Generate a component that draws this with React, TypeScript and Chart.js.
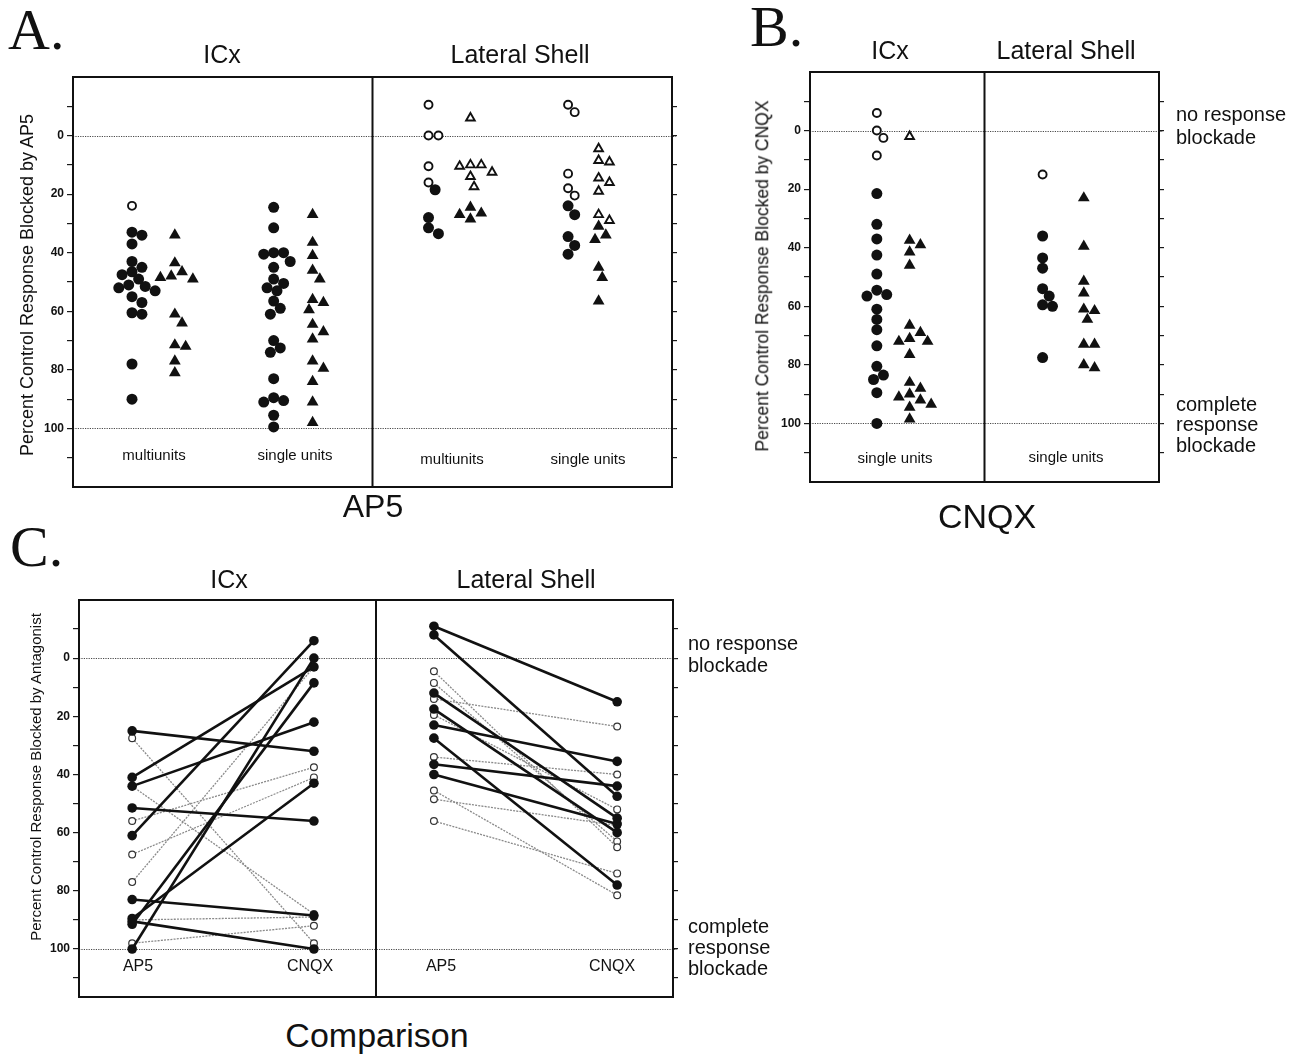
import React, { useEffect, useRef } from 'react';
import { Chart, registerables } from 'chart.js';

Chart.register(...registerables);

const SANS = '"Liberation Sans", Arial, Helvetica, sans-serif';
const SERIF = '"Liberation Serif", "Times New Roman", serif';
const INK = '#111';

// Percent of the control response blocked, one value per recording site.

// A. AP5 — ICx
const apIcxMultiOpenCircles = [24];
const apIcxMultiCircles = [33, 34, 37, 43, 45, 46.5, 47.5, 49, 51, 51.5, 52, 53, 55, 57, 60.5, 61, 78, 90];
const apIcxMultiTriangles = [34, 43.5, 46.5, 48, 48.5, 49, 61, 64, 71.5, 72, 77, 81];
const apIcxSingleCircles = [24.5, 31.5, 40, 40, 40.5, 43, 45, 49, 50.5, 52, 53, 56.5, 59, 61, 70, 72.5, 74, 83, 89.5, 90.5, 91, 95.5, 99.5];
const apIcxSingleTriangles = [27, 36.5, 41, 46, 49, 56, 57, 59.5, 64.5, 67, 69.5, 77, 79.5, 84, 91, 98];

// A. AP5 — lateral shell
const apShellMultiOpenCircles = [-10.5, 0, 0, 10.5, 16];
const apShellMultiCircles = [18.5, 28, 31.5, 33.5];
const apShellMultiOpenTriangles = [-6, 10, 10, 10.5, 12.5, 14, 17.5];
const apShellMultiTriangles = [24.5, 26.5, 27, 28.5];
const apShellSingleOpenCircles = [-10.5, -8, 13, 18, 20.5];
const apShellSingleCircles = [24, 27, 34.5, 37.5, 40.5];
const apShellSingleOpenTriangles = [4.5, 8.5, 9, 14.5, 16, 19, 27, 29];
const apShellSingleTriangles = [31, 34, 35.5, 45, 48.5, 56.5];

// B. CNQX — single units
const cnIcxOpenCircles = [-6, 0, 2.5, 8.5];
const cnIcxCircles = [21.5, 32, 37, 42.5, 49, 54.5, 56, 56.5, 61, 64.5, 68, 73.5, 80.5, 83.5, 85, 89.5, 100];
const cnIcxOpenTriangles = [2];
const cnIcxTriangles = [37.5, 39, 41.5, 46, 66.5, 69, 71, 72, 72, 76.5, 86, 88, 90, 91, 92, 93.5, 94.5, 98.5];
const cnShellOpenCircles = [15];
const cnShellCircles = [36, 43.5, 47, 54, 56.5, 59.5, 60, 77.5];
const cnShellTriangles = [23, 39.5, 51.5, 55.5, 61, 61.5, 64.5, 73, 73, 80, 81];

// C. Same sites tested with both antagonists (AP5 value paired with CNQX value)
const cmpIcxAp5 = [25, 41, 44, 51.5, 61, 83, 89.5, 90.5, 91.5, 100];
const cmpIcxCnqx = [32, 3, 22, 56, -6, 88.5, 43, 100, 8.5, 0];
const cmpIcxAp5Open = [27.5, 44, 56, 67.5, 77, 90, 98];
const cmpIcxCnqxOpen = [98, 88, 37.5, 41, 3, 89, 92];
const cmpShellAp5 = [-11, -8, 12, 17.5, 23, 27.5, 36.5, 40];
const cmpShellCnqx = [15, 47.5, 55, 60, 35.5, 78, 44, 57];
const cmpShellAp5Open = [4.5, 8.5, 14, 19.5, 34, 45.5, 48.5, 56];
const cmpShellCnqxOpen = [65, 63, 23.5, 52, 40, 81.5, 57.5, 74];

// Axis tick labels
const yTickLabels = [0, 20, 40, 60, 80, 100];
const referenceLevels = [0, 100];

type Pt = { x: number; y: number };

// Simple beeswarm: stack markers of one column so they do not overlap.
function swarm(groups: number[][], center: number, pxPerX: number, pxPerY: number, r: number): Pt[][] {
  const items: { g: number; i: number; v: number }[] = [];
  groups.forEach((vals, g) => vals.forEach((v, i) => items.push({ g, i, v })));
  items.sort((a, b) => a.v - b.v);
  const placed: { dx: number; dy: number }[] = [];
  const out: Pt[][] = groups.map((vals) => vals.map(() => ({ x: center, y: 0 })));
  const minDist = r * 1.75;
  const step = r * 0.6;
  for (const it of items) {
    const dy = it.v * pxPerY;
    let dx = 0;
    for (let k = 0; k < 80; k++) {
      const cand = k === 0 ? 0 : (k % 2 ? 1 : -1) * Math.ceil(k / 2) * step;
      if (placed.every((p) => Math.hypot(p.dx - cand, p.dy - dy) >= minDist)) {
        dx = cand;
        break;
      }
    }
    placed.push({ dx, dy });
    out[it.g][it.i] = { x: center + dx / pxPerX, y: it.v };
  }
  return out;
}

// Frame, sub-panel divider and dotted reference levels.
const panelFrame = {
  id: 'panelFrame',
  beforeDatasetsDraw(chart: any) {
    const { ctx, chartArea: a, scales } = chart;
    const opts = chart.options.plugins.panelFrame;
    ctx.save();
    ctx.strokeStyle = '#4a4a4a';
    ctx.lineWidth = 1.2;
    ctx.setLineDash([1.2, 1.2]);
    for (const v of referenceLevels) {
      const py = Math.round(scales.y.getPixelForValue(v)) + 0.5;
      ctx.beginPath();
      ctx.moveTo(a.left, py);
      ctx.lineTo(a.right + 4, py);
      ctx.stroke();
    }
    ctx.setLineDash([]);
    ctx.strokeStyle = INK;
    ctx.lineWidth = 2;
    ctx.strokeRect(a.left, a.top, a.right - a.left, a.bottom - a.top);
    const dx = scales.x.getPixelForValue(opts.divider);
    ctx.beginPath();
    ctx.moveTo(dx, a.top);
    ctx.lineTo(dx, a.bottom);
    ctx.stroke();
    ctx.restore();
  },
};

function buildScales(min: number, max: number, leftWidth: number, rightWidth: number) {
  const tickColor = (c: any) =>
    c.tick && (c.tick.value <= min || c.tick.value >= max) ? 'rgba(0,0,0,0)' : '#1a1a1a';
  return {
    x: { type: 'linear', min: 0, max: 2, display: false },
    y: {
      type: 'linear',
      position: 'left',
      reverse: true,
      min,
      max,
      afterFit: (s: any) => {
        s.width = leftWidth;
      },
      border: { display: false },
      grid: { drawOnChartArea: false, drawTicks: true, tickLength: 6, lineWidth: 1.2, color: tickColor },
      ticks: {
        stepSize: 10,
        autoSkip: false,
        includeBounds: false,
        padding: 3,
        color: INK,
        font: { family: SANS, size: 12, weight: 'bold' },
        callback: (v: any) => (yTickLabels.includes(Number(v)) ? String(v) : ''),
      },
    },
    yR: {
      type: 'linear',
      position: 'right',
      reverse: true,
      min,
      max,
      afterFit: (s: any) => {
        s.width = rightWidth;
      },
      border: { display: false },
      grid: { drawOnChartArea: false, drawTicks: true, tickLength: 5, lineWidth: 1.2, color: tickColor },
      ticks: { display: false, stepSize: 10, autoSkip: false, includeBounds: false },
    },
  };
}

function baseOptions(scales: any, padding: any, divider: number) {
  return {
    responsive: false,
    animation: false,
    devicePixelRatio: 1,
    events: [],
    layout: { padding, autoPadding: false },
    scales,
    plugins: {
      legend: { display: false },
      tooltip: { enabled: false },
      panelFrame: { divider },
    },
  };
}

function dots(data: Pt[], style: string, open: boolean, radius: number) {
  return {
    data,
    showLine: false,
    pointStyle: style,
    pointRadius: radius,
    pointHoverRadius: radius,
    backgroundColor: open ? '#fff' : INK,
    borderColor: INK,
    borderWidth: open ? 1.9 : 0,
  };
}

// ---------- Panel A (AP5) ----------
function panelAConfig() {
  const px = 299;
  const py = 410 / 140;
  const [imOpen, imFill] = swarm([apIcxMultiOpenCircles, apIcxMultiCircles], 0.197, px, py, 5.5);
  const [imTri] = swarm([apIcxMultiTriangles], 0.34, px, py, 6);
  const [isFill] = swarm([apIcxSingleCircles], 0.67, px, py, 5.5);
  const [isTri] = swarm([apIcxSingleTriangles], 0.8, px, py, 6);
  const [smOpen, smFill] = swarm([apShellMultiOpenCircles, apShellMultiCircles], 1.187, px, py, 5.5);
  const [smOpenTri, smTri] = swarm([apShellMultiOpenTriangles, apShellMultiTriangles], 1.327, px, py, 6);
  const [ssOpen, ssFill] = swarm([apShellSingleOpenCircles, apShellSingleCircles], 1.653, px, py, 5.5);
  const [ssOpenTri, ssTri] = swarm([apShellSingleOpenTriangles, apShellSingleTriangles], 1.755, px, py, 6);
  return {
    type: 'scatter',
    data: {
      datasets: [
        dots(imFill, 'circle', false, 5.5),
        dots(imTri, 'triangle', false, 6.8),
        dots(isFill, 'circle', false, 5.5),
        dots(isTri, 'triangle', false, 6.8),
        dots(smFill, 'circle', false, 5.5),
        dots(smTri, 'triangle', false, 6.8),
        dots(ssFill, 'circle', false, 5.5),
        dots(ssTri, 'triangle', false, 6.8),
        dots(imOpen, 'circle', true, 4),
        dots(smOpen, 'circle', true, 4),
        dots(ssOpen, 'circle', true, 4),
        dots(smOpenTri, 'triangle', true, 5),
        dots(ssOpenTri, 'triangle', true, 5),
      ],
    },
    options: baseOptions(buildScales(-20, 120, 73, 28), { top: 17, bottom: 13, left: 0, right: 0 }, 1),
    plugins: [panelFrame],
  };
}

// ---------- Panel B (CNQX) ----------
function panelBConfig() {
  const px = 175;
  const py = 410 / 140;
  const [iOpen, iFill] = swarm([cnIcxOpenCircles, cnIcxCircles], 0.383, px, py, 5.5);
  const [iOpenTri, iTri] = swarm([cnIcxOpenTriangles, cnIcxTriangles], 0.571, px, py, 6);
  const [sOpen, sFill] = swarm([cnShellOpenCircles, cnShellCircles], 1.333, px, py, 5.5);
  const [sTri] = swarm([cnShellTriangles], 1.569, px, py, 6);
  return {
    type: 'scatter',
    data: {
      datasets: [
        dots(iFill, 'circle', false, 5.5),
        dots(iTri, 'triangle', false, 6.8),
        dots(sFill, 'circle', false, 5.5),
        dots(sTri, 'triangle', false, 6.8),
        dots(iOpen, 'circle', true, 4),
        dots(sOpen, 'circle', true, 4),
        dots(iOpenTri, 'triangle', true, 5),
      ],
    },
    options: baseOptions(buildScales(-20, 120, 70, 28), { top: 12, bottom: 18, left: 0, right: 0 }, 1),
    plugins: [panelFrame],
  };
}

// ---------- Panel C (paired comparison) ----------
function pairLines(ap5: number[], cnqx: number[], xa: number, xc: number, open: boolean) {
  return ap5.map((a, i) => ({
    data: [
      { x: xa, y: a },
      { x: xc, y: cnqx[i] },
    ],
    showLine: true,
    borderColor: open ? '#8a8a8a' : INK,
    borderWidth: open ? 1.3 : 2.6,
    borderDash: open ? [2, 1.2] : [],
    pointStyle: 'circle',
    pointRadius: open ? 3.4 : 4.8,
    pointHoverRadius: open ? 3.4 : 4.8,
    pointBackgroundColor: open ? '#fff' : INK,
    pointBorderColor: open ? '#333' : INK,
    pointBorderWidth: open ? 1.2 : 0,
  }));
}

function panelCConfig() {
  return {
    type: 'scatter',
    data: {
      datasets: [
        ...pairLines(cmpIcxAp5, cmpIcxCnqx, 0.179, 0.791, false),
        ...pairLines(cmpShellAp5, cmpShellCnqx, 1.195, 1.812, false),
        ...pairLines(cmpIcxAp5Open, cmpIcxCnqxOpen, 0.179, 0.791, true),
        ...pairLines(cmpShellAp5Open, cmpShellCnqxOpen, 1.195, 1.812, true),
      ],
    },
    options: baseOptions(buildScales(-20, 116.5, 79, 27), { top: 15, bottom: 13, left: 0, right: 0 }, 1),
    plugins: [panelFrame],
  };
}

function ChartCanvas({ left, top, width, height, make }: any) {
  const ref = useRef<HTMLCanvasElement>(null);
  useEffect(() => {
    const chart = new Chart(ref.current as HTMLCanvasElement, make());
    return () => chart.destroy();
  }, []);
  return (
    <canvas
      ref={ref}
      width={width}
      height={height}
      style={{ position: 'absolute', left, top, width, height }}
    />
  );
}

// Text placed by its baseline.
function Txt({ x, y, size, children, anchor = 'middle', serif = false }: any) {
  const asc = serif ? 0.8375 : 0.8465;
  return (
    <div
      style={{
        position: 'absolute',
        left: x,
        top: y - asc * size,
        fontSize: size,
        lineHeight: `${size}px`,
        fontFamily: serif ? SERIF : SANS,
        color: INK,
        whiteSpace: 'nowrap',
        transform: anchor === 'middle' ? 'translateX(-50%)' : undefined,
      }}
    >
      {children}
    </div>
  );
}

function VTxt({ cx, cy, size, children }: any) {
  return (
    <div
      style={{
        position: 'absolute',
        left: cx,
        top: cy,
        fontSize: size,
        lineHeight: `${size}px`,
        fontFamily: SANS,
        color: INK,
        whiteSpace: 'nowrap',
        transform: 'translate(-50%, -50%) rotate(-90deg)',
      }}
    >
      {children}
    </div>
  );
}

export default function App() {
  return (
    <div
      style={{
        position: 'absolute',
        left: 0,
        top: 0,
        width: 1301,
        height: 1055,
        overflow: 'hidden',
        background: '#fff',
      }}
    >
      <ChartCanvas left={0} top={60} width={700} height={440} make={panelAConfig} />
      <ChartCanvas left={740} top={60} width={447} height={440} make={panelBConfig} />
      <ChartCanvas left={0} top={585} width={700} height={425} make={panelCConfig} />

      {/* Panel A */}
      <Txt x={8} y={50} size={58} anchor="start" serif>A.</Txt>
      <Txt x={222} y={63} size={25}>ICx</Txt>
      <Txt x={520} y={63} size={25}>Lateral Shell</Txt>
      <VTxt cx={27} cy={285} size={18}>Percent Control Response Blocked by AP5</VTxt>
      <Txt x={154} y={460} size={15}>multiunits</Txt>
      <Txt x={295} y={460} size={15}>single units</Txt>
      <Txt x={452} y={464} size={15}>multiunits</Txt>
      <Txt x={588} y={464} size={15}>single units</Txt>
      <Txt x={373} y={517} size={32}>AP5</Txt>

      {/* Panel B */}
      <Txt x={750} y={47} size={58} anchor="start" serif>B.</Txt>
      <Txt x={890} y={59} size={25}>ICx</Txt>
      <Txt x={1066} y={59} size={25}>Lateral Shell</Txt>
      <VTxt cx={763} cy={276} size={17.5}>Percent Control Response Blocked by CNQX</VTxt>
      <Txt x={895} y={463} size={15}>single units</Txt>
      <Txt x={1066} y={462} size={15}>single units</Txt>
      <Txt x={1176} y={121} size={20} anchor="start">no response</Txt>
      <Txt x={1176} y={144} size={20} anchor="start">blockade</Txt>
      <Txt x={1176} y={411} size={20} anchor="start">complete</Txt>
      <Txt x={1176} y={431} size={20} anchor="start">response</Txt>
      <Txt x={1176} y={452} size={20} anchor="start">blockade</Txt>
      <Txt x={987} y={528} size={34}>CNQX</Txt>

      {/* Panel C */}
      <Txt x={10} y={567} size={58} anchor="start" serif>C.</Txt>
      <Txt x={229} y={588} size={25}>ICx</Txt>
      <Txt x={526} y={588} size={25}>Lateral Shell</Txt>
      <VTxt cx={35} cy={777} size={15}>Percent Control Response Blocked by Antagonist</VTxt>
      <Txt x={138} y={972} size={16}>AP5</Txt>
      <Txt x={310} y={972} size={16}>CNQX</Txt>
      <Txt x={441} y={972} size={16}>AP5</Txt>
      <Txt x={612} y={972} size={16}>CNQX</Txt>
      <Txt x={688} y={650} size={20} anchor="start">no response</Txt>
      <Txt x={688} y={672} size={20} anchor="start">blockade</Txt>
      <Txt x={688} y={933} size={20} anchor="start">complete</Txt>
      <Txt x={688} y={954} size={20} anchor="start">response</Txt>
      <Txt x={688} y={975} size={20} anchor="start">blockade</Txt>
      <Txt x={377} y={1047} size={34}>Comparison</Txt>
    </div>
  );
}
